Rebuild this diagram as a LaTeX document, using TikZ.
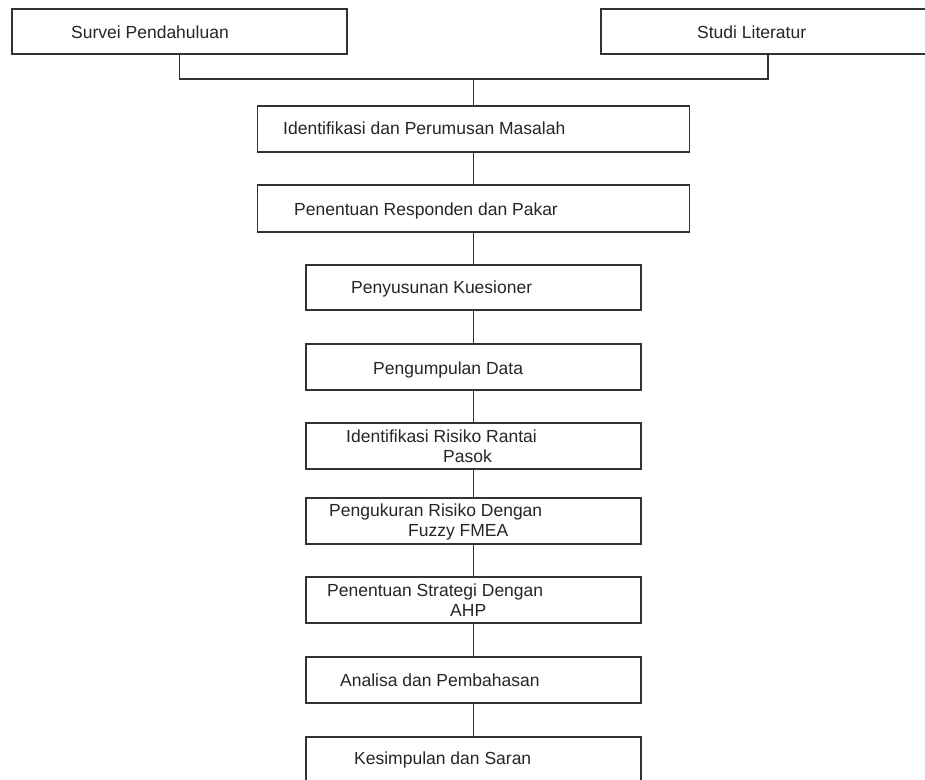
\documentclass[tikz,border=0pt]{standalone}
\usepackage{fontspec}
\setmainfont{Liberation Sans}
\begin{document}
\begin{tikzpicture}[x=1pt,y=-1pt,
  box/.style={draw=black!80,line width=1.5pt,rectangle,inner sep=0pt,minimum height=46pt},
  wide/.style={box,minimum width=432pt},
  narrow/.style={box,minimum width=335pt},
  lbl/.style={anchor=base west,inner sep=0pt,text=black!85,font=\fontsize{17.5}{19.5}\selectfont,align=left},
  conn/.style={draw=black!80,line width=1.5pt}]
\useasboundingbox (0,0) rectangle (925,779);
\clip (0,0) rectangle (925,779);
\fill[white] (0,0) rectangle (925,779);
% boxes
\node[narrow,minimum height=45pt] (sv) at (179.5,31.5) {};
\node[narrow,minimum width=334pt,minimum height=45pt] (st) at (768,31.5) {};
\node[wide] (id) at (473.5,129) {};
\node[wide,minimum height=47pt] (pr) at (473.5,208.5) {};
\node[narrow,minimum height=45pt] (ps) at (473.5,287.5) {};
\node[narrow] (pd) at (473.5,367) {};
\node[narrow] (ir) at (473.5,446) {};
\node[narrow] (pk) at (473.5,521) {};
\node[narrow] (sa) at (473.5,600) {};
\node[narrow] (an) at (473.5,680) {};
\node[narrow] (ks) at (473.5,760) {};
% texts
\node[lbl] (t1) at (71,38.5) {Survei Pendahuluan};
\node[lbl] (t2) at (697,38.5) {Studi Literatur};
\node[lbl] (t3) at (283,134.5) {Identifikasi dan Perumusan Masalah};
\node[lbl] (t4) at (294,215.5) {Penentuan Responden dan Pakar};
\node[lbl] (t5) at (351,293.5) {Penyusunan Kuesioner};
\node[lbl] (t6) at (373,374.5) {Pengumpulan Data};
\node[lbl] (t7) at (346,462) {Identifikasi Risiko Rantai\\\hspace*{97pt}Pasok};
\node[lbl] (t8) at (329,536) {Pengukuran Risiko Dengan\\\hspace*{79pt}Fuzzy FMEA};
\node[lbl] (t9) at (327,616) {Penentuan Strategi Dengan\\\hspace*{123pt}AHP};
\node[lbl] (t10) at (340,686.5) {Analisa dan Pembahasan};
\node[lbl] (t11) at (354,764.5) {Kesimpulan dan Saran};
% connectors
\coordinate (j) at (473.5,79);
\draw[conn] (sv.south) |- (j);
\draw[conn] (st.south) |- (j);
\draw[conn] (j) -- (id.north);
\draw[conn] (id) -- (pr);
\draw[conn] (pr) -- (ps);
\draw[conn] (ps) -- (pd);
\draw[conn] (pd) -- (ir);
\draw[conn] (ir) -- (pk);
\draw[conn] (pk) -- (sa);
\draw[conn] (sa) -- (an);
\draw[conn] (an) -- (ks);
\end{tikzpicture}
\end{document}
